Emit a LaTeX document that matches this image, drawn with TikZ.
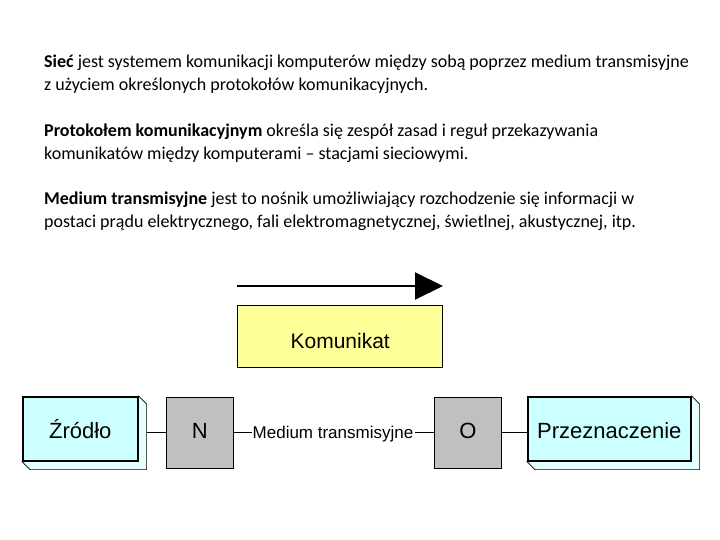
\documentclass[tikz,border=0pt]{standalone}
\usepackage{fontspec}
\setmainfont{Carlito}
\newfontfamily\arialf{Liberation Sans}
\usetikzlibrary{arrows.meta,backgrounds}
\definecolor{boxcyan}{HTML}{CCFFFF}
\definecolor{shadecyan}{HTML}{E6FFFF}
\definecolor{boxyellow}{HTML}{FFFF99}
\definecolor{boxgray}{HTML}{C0C0C0}
\tikzset{
  txt/.style={anchor=base west, inner sep=0pt, font=\fontsize{18}{21}\selectfont},
  endbox/.style={draw=black, line width=1.6pt, fill=boxcyan, anchor=north west, inner sep=0pt,
     text height=20pt, text depth=0pt, font=\arialf\fontsize{22}{24}\selectfont},
  bevel/.style={draw=black, line width=0.6pt, fill=shadecyan},
  graybox/.style={draw=black, line width=0.8pt, fill=boxgray, anchor=north west, inner sep=0pt,
     text height=16pt, text depth=5pt,
     minimum width=67pt, minimum height=71pt, font=\arialf\fontsize{22}{24}\selectfont},
  msgbox/.style={draw=black, line width=1.4pt, fill=boxyellow, anchor=north west, inner sep=0pt,
     text height=24pt, text depth=0pt,
     minimum width=205pt, minimum height=62pt, font=\arialf\fontsize{21}{24}\selectfont},
  conn/.style={draw=black, line width=1pt},
}
\begin{document}
\begin{tikzpicture}[x=1pt,y=-1pt]
\useasboundingbox (0,0) rectangle (720,540);
% texts
\node[txt] (t1) at (44,68) {\textbf{Sieć} jest systemem komunikacji komputerów między sobą poprzez medium transmisyjne};
\node[txt] (t2) at (44,91) {z użyciem określonych protokołów komunikacyjnych.};
\node[txt] (t3) at (44,137) {\textbf{Protokołem komunikacyjnym} określa się zespół zasad i reguł przekazywania};
\node[txt] (t4) at (44,160) {komunikatów między komputerami – stacjami sieciowymi.};
\node[txt] (t5) at (44,205) {\textbf{Medium transmisyjne} jest to nośnik umożliwiający rozchodzenie się informacji w};
\node[txt] (t6) at (44,228) {postaci prądu elektrycznego, fali elektromagnetycznej, świetlnej, akustycznej, itp.};
% arrow and message
\coordinate (as) at (237,286);
\coordinate (ae) at (443,286);
\draw[line width=2pt, -{Triangle[length=28pt,width=27pt]}] (as) -- (ae);
\node[msgbox] (msg) at (237,305) {Komunikat};
% source and destination
\node[endbox, minimum width=115pt, minimum height=64pt] (zr) at (22,396) {Źródło};
\node[graybox] (n) at (166,397) {N};
\node[anchor=base, inner sep=0pt, text height=12pt, text depth=4pt, font=\arialf\fontsize{17}{18}\selectfont] (med) at (333,438.5) {Medium transmisyjne};
\node[graybox] (o) at (434,397) {O};
\node[endbox, minimum width=163pt, minimum height=64pt] (pr) at (527,396) {Przeznaczenie};
\begin{pgfonlayer}{background}
\draw[bevel] (zr.north east) -- ([shift={(8,8)}]zr.north east) -- ([shift={(8,8)}]zr.south east)
   -- ([shift={(8,8)}]zr.south west) -- (zr.south west) -- cycle;
\draw[bevel] (pr.north east) -- ([shift={(8,8)}]pr.north east) -- ([shift={(8,8)}]pr.south east)
   -- ([shift={(8,8)}]pr.south west) -- (pr.south west) -- cycle;
\end{pgfonlayer}
\coordinate (zrx) at ([xshift=8pt]zr.east);
\draw[conn] (zrx |- n.west) -- (n.west);
\draw[conn] (n.east) -- ([xshift=-1pt]med.west |- n.east);
\draw[conn] ([xshift=1pt]med.east |- o.west) -- (o.west);
\draw[conn] (o.east) -- (o.east -| pr.west);
\end{tikzpicture}
\end{document}
